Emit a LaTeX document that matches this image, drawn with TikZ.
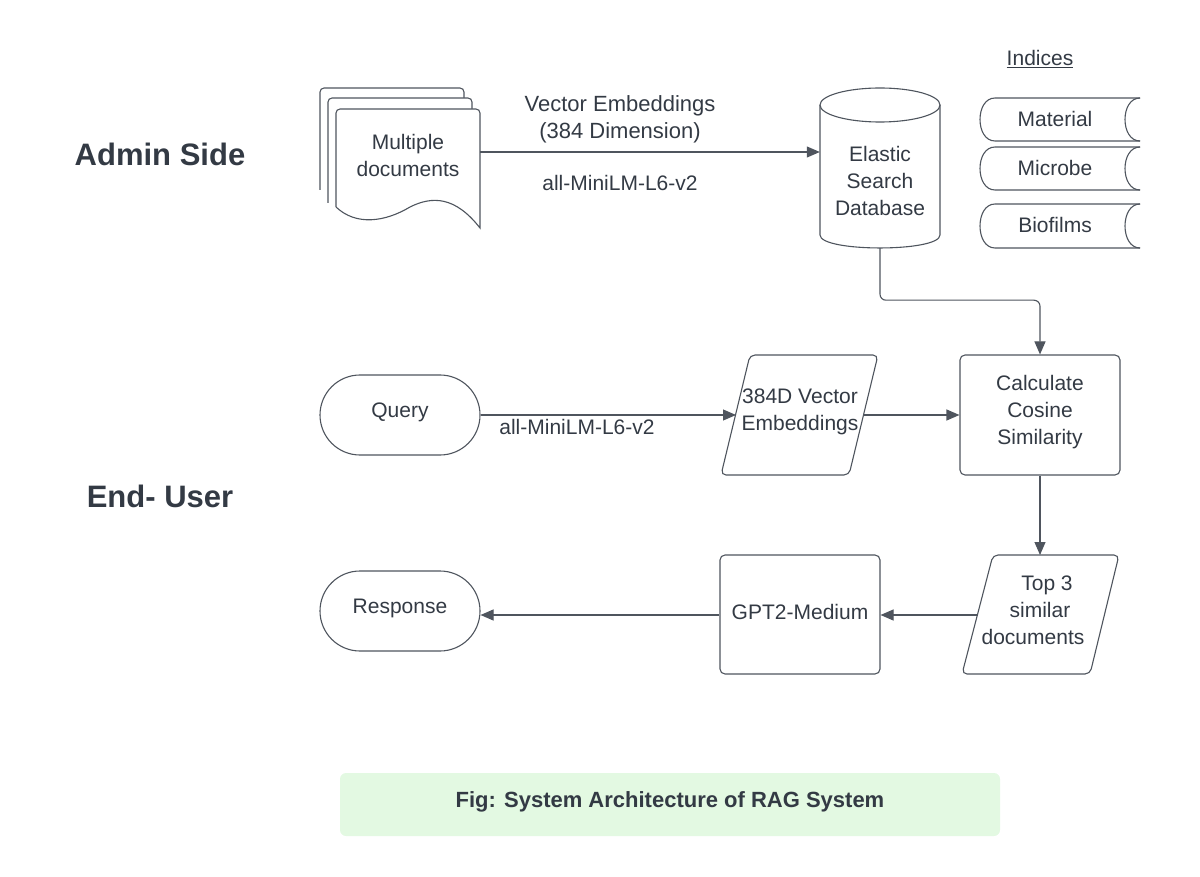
\documentclass[tikz,border=0pt]{standalone}
\usepackage{fontspec}
\setmainfont{Liberation Sans}
\usetikzlibrary{arrows.meta}
\definecolor{txt}{HTML}{333A44}
\definecolor{ln}{HTML}{4F555E}
\definecolor{capfill}{HTML}{E3F9E2}
\begin{document}
\begin{tikzpicture}[x=1pt,y=-1pt,
  every node/.style={font=\fontsize{21}{27}\selectfont, text=txt, align=center, inner sep=0pt},
  shp/.style={draw=ln, line width=1.1pt, fill=white},
  conn/.style={draw=ln, line width=1.1pt, -{Triangle[length=13pt,width=11pt]}},
  plain/.style={draw=ln, line width=1.1pt},
  ghost/.style={draw=none, inner sep=0pt},
  side/.style={font=\fontsize{31}{35}\selectfont\bfseries}
]
\useasboundingbox (0,0) rectangle (1200,877);

% side titles
\node[side] (admin) at (160,154) {Admin Side};
\node[side] (enduser) at (160,496) {End- User};

% document stack
\draw[shp, rounded corners=4] (320,190) -- (320,88) -- (464,88) -- (464,190);
\draw[shp, rounded corners=4] (328,203) -- (328,98) -- (472,98) -- (472,210);
\draw[shp] (336,207) -- (336,113) [rounded corners=4] -- (336,109) -- (480,109) [sharp corners] -- (480,228)
   .. controls (455,196) and (432,196) .. (410,207)
   .. controls (385,222) and (356,226) .. (336,207);
\node[ghost, minimum width=144, minimum height=100] (docs) at (408,152) {};
\node (docstxt) at (408,155) {Multiple\\documents};

% cylinder
\node[ghost, minimum width=120, minimum height=160] (db) at (880,168) {};
\draw[shp] (820,105) -- (820,235) .. controls (820,252.3) and (940,252.3) .. (940,235) -- (940,105);
\draw[shp] (880,105) ellipse [x radius=60pt, y radius=17pt];
\node (dbtxt) at (880,181) {Elastic\\Search\\Database};

% top arrow and labels
\draw[conn] (docs.east) -- (docs.east -| db.west);
\node[font=\fontsize{22}{27}\selectfont] (vec) at (620,119.5) {Vector Embeddings\\(384 Dimension)};
\node (mini1) at (620,183) {all-MiniLM-L6-v2};

% indices
\node (indices) at (1040,59) {\underline{Indices}};
\foreach \ya/\yb/\nm/\lab in {98/141/mat/Material, 147/190/mic/Microbe, 204/248/bio/Biofilms}{
  \draw[shp] (1140,\ya) -- (995,\ya) .. controls (975,\ya) and (975,\yb) .. (995,\yb) -- (1140,\yb);
  \draw[plain] (1140,\ya) .. controls (1120,\ya) and (1120,\yb) .. (1140,\yb);
  \node (\nm) at (1055,{(\ya+\yb)/2-1}) {\lab};
}

% query
\node[shp, rounded corners=40, minimum width=160, minimum height=80] (query) at (400,415) {};
\node (querytxt) at (400,412) {Query};
\node (mini2) at (577,427) {all-MiniLM-L6-v2};

% embeddings parallelogram
\draw[shp, rounded corners=5] (750,355) -- (878,355) -- (849,475) -- (721,475) -- cycle;
\coordinate (embW) at (736,415);
\coordinate (embE) at (864,415);
\node (embtxt) at (800,412) {384D Vector\\Embeddings};

% calculate
\node[shp, rounded corners=5, minimum width=160, minimum height=120] (calc) at (1040,415) {};
\node (calctxt) at (1040,412) {Calculate\\Cosine\\Similarity};

% top 3 parallelogram
\draw[shp, rounded corners=5] (993,555) -- (1119,555) -- (1090,674) -- (962,674) -- cycle;
\coordinate (topN) at (1040,555);
\coordinate (topW) at (977,615);
\node (toptxt) at (1040,610) {\hspace*{14pt}Top 3\\similar\\documents\hspace*{14pt}};

% gpt
\node[shp, rounded corners=5, minimum width=160, minimum height=119] (gpt) at (800,614.5) {};
\node (gpttxt) at (800,612) {GPT2-Medium};

% response
\node[shp, rounded corners=40, minimum width=160, minimum height=80] (resp) at (400,611) {};
\node (resptxt) at (400,608) {Response};

% connectors
\draw[conn, rounded corners=6] (db.south) -- ++(0,52) -| (calc.north);
\draw[conn] (query.east |- embW) -- (embW);
\draw[conn] (embE) -- (calc.west);
\draw[conn] (calc.south) -- (topN);
\draw[conn] (topW) -- (topW -| gpt.east);
\draw[conn] (gpt.west |- topW) -- (topW -| resp.east);

% caption
\node[fill=capfill, rounded corners=6, minimum width=660, minimum height=63] (cap) at (670,804.5) {};
\node[font=\fontsize{22}{26}\selectfont\bfseries] (captxt) at (670,802) {Fig: System Architecture of RAG System};
\end{tikzpicture}
\end{document}
